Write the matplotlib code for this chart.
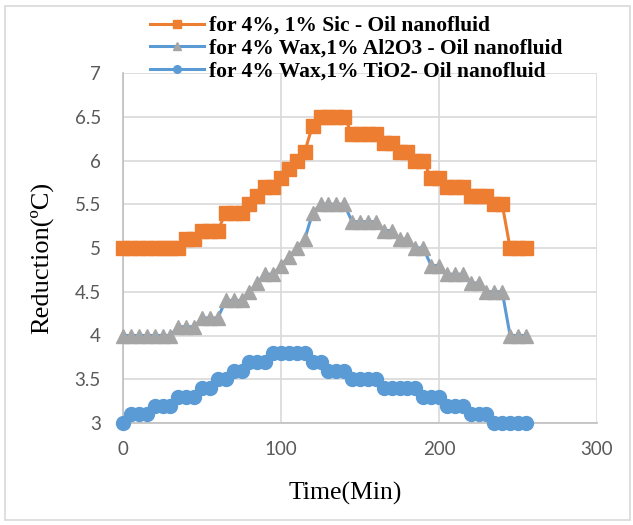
#!/usr/bin/env python3
"""Reduction vs time for three wax/oil nanofluid mixtures."""
import matplotlib
matplotlib.use('Agg')
import matplotlib.pyplot as plt
from matplotlib.patches import Rectangle

# time axis, minutes (readings every 5 min)
time_min = list(range(0, 260, 5))

sic_oil = [5.0, 5.0, 5.0, 5.0, 5.0, 5.0, 5.0, 5.0, 5.1, 5.1,
           5.2, 5.2, 5.2, 5.4, 5.4, 5.4, 5.5, 5.6, 5.7, 5.7,
           5.8, 5.9, 6.0, 6.1, 6.4, 6.5, 6.5, 6.5, 6.5, 6.3,
           6.3, 6.3, 6.3, 6.2, 6.2, 6.1, 6.1, 6.0, 6.0, 5.8,
           5.8, 5.7, 5.7, 5.7, 5.6, 5.6, 5.6, 5.5, 5.5, 5.0,
           5.0, 5.0]

al2o3_oil = [4.0, 4.0, 4.0, 4.0, 4.0, 4.0, 4.0, 4.1, 4.1, 4.1,
             4.2, 4.2, 4.2, 4.4, 4.4, 4.4, 4.5, 4.6, 4.7, 4.7,
             4.8, 4.9, 5.0, 5.1, 5.4, 5.5, 5.5, 5.5, 5.5, 5.3,
             5.3, 5.3, 5.3, 5.2, 5.2, 5.1, 5.1, 5.0, 5.0, 4.8,
             4.8, 4.7, 4.7, 4.7, 4.6, 4.6, 4.5, 4.5, 4.5, 4.0,
             4.0, 4.0]

tio2_oil = [3.0, 3.1, 3.1, 3.1, 3.2, 3.2, 3.2, 3.3, 3.3, 3.3,
            3.4, 3.4, 3.5, 3.5, 3.6, 3.6, 3.7, 3.7, 3.7, 3.8,
            3.8, 3.8, 3.8, 3.8, 3.7, 3.7, 3.6, 3.6, 3.6, 3.5,
            3.5, 3.5, 3.5, 3.4, 3.4, 3.4, 3.4, 3.4, 3.3, 3.3,
            3.3, 3.2, 3.2, 3.2, 3.1, 3.1, 3.1, 3.0, 3.0, 3.0,
            3.0, 3.0]

labels = ['for 4%, 1% Sic - Oil nanofluid',
          'for 4% Wax,1% Al2O3 - Oil nanofluid',
          'for 4% Wax,1% TiO2- Oil nanofluid']

ORANGE = '#ED7D31'
BLUE = '#5B9BD5'
GRAY = '#A5A5A5'
TICK = '#595959'
GRID = '#D9D9D9'

W, H = 633, 525
fig = plt.figure(figsize=(W / 100, H / 100), dpi=100)

# chart-area border
fig.patches.append(Rectangle((5 / W, 5 / H), 625 / W, 514 / H, transform=fig.transFigure,
                             fill=False, edgecolor=GRID, linewidth=1.2))

ax = fig.add_axes([123 / W, 102 / H, 474 / W, 350 / H])

h1, = ax.plot(time_min, sic_oil, color=ORANGE, lw=2.2, marker='s', ms=10,
              mfc=ORANGE, mec=ORANGE, clip_on=False, zorder=3)
h2, = ax.plot(time_min, al2o3_oil, color=BLUE, lw=2.2, marker='^', ms=10,
              mfc=GRAY, mec=GRAY, clip_on=False, zorder=3)
h3, = ax.plot(time_min, tio2_oil, color=BLUE, lw=2.2, marker='o', ms=10,
              mfc=BLUE, mec=BLUE, clip_on=False, zorder=3)

ax.set_xlim(0, 300)
ax.set_ylim(3, 7)
ax.set_xticks([0, 100, 200, 300])
ax.set_yticks([3, 3.5, 4, 4.5, 5, 5.5, 6, 6.5, 7])
ax.set_yticklabels(['3', '3.5', '4', '4.5', '5', '5.5', '6', '6.5', '7'])
ax.tick_params(length=0, labelsize=13.5, colors=TICK)
ax.tick_params(axis='y', pad=16)
ax.tick_params(axis='x', pad=13)
for lab in ax.get_xticklabels() + ax.get_yticklabels():
    lab.set_fontfamily('Lato')

ax.grid(True, color=GRID, lw=1.2)
ax.set_axisbelow(True)
for side in ['top', 'right']:
    ax.spines[side].set_visible(False)
for side in ['left', 'bottom']:
    ax.spines[side].set_color('#BFBFBF')
    ax.spines[side].set_linewidth(1.2)

fig.text(345 / W, 1 - 493 / H, 'Time(Min)', ha='center', va='center',
         fontfamily='Liberation Serif', fontsize=18.5)
fig.text(42 / W, 1 - 258 / H, 'Reduction(ºC)', ha='center', va='center', rotation=90,
         fontfamily='Liberation Serif', fontsize=19)

fig.legend([h1, h2, h3], labels, loc='upper left', bbox_to_anchor=(150 / W, 1 - 16 / H),
           frameon=False, markerscale=0.55, handlelength=2.5, handletextpad=0.25,
           labelspacing=0.12, borderaxespad=0, borderpad=0,
           prop={'family': 'Liberation Serif', 'weight': 'bold', 'size': 15.5})

fig.savefig('out.png', dpi=100)
